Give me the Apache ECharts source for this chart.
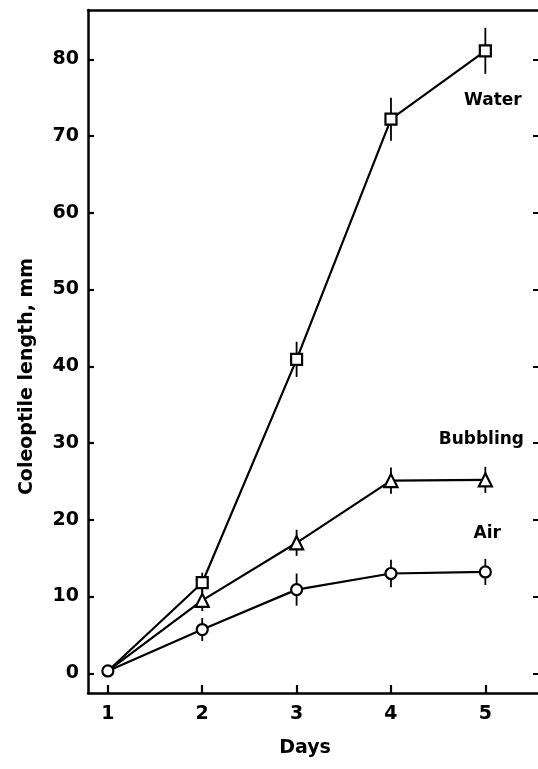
<!DOCTYPE html>
<html>
<head>
<meta charset="utf-8">
<script src="https://cdn.jsdelivr.net/npm/echarts@6/dist/echarts.min.js"></script>
<style>
html,body{margin:0;padding:0;background:#fff;}
#c{width:538px;height:769px;}
</style>
</head>
<body>
<div id="c"></div>
<script>
var days = [1, 2, 3, 4, 5];
var waterVals = [0.3, 11.8, 40.9, 72.2, 81.1];
var waterErr = [0, 1.3, 2.3, 2.8, 3.0];
var bubblingVals = [0.3, 9.5, 17.0, 25.1, 25.2];
var bubblingErr = [0, 1.4, 1.7, 1.7, 1.7];
var airVals = [0.3, 5.7, 10.9, 13.0, 13.2];
var airErr = [0, 1.5, 2.1, 1.8, 1.7];
var xTicks = [1, 2, 3, 4, 5];
var yTicks = [0, 10, 20, 30, 40, 50, 60, 70, 80];
var annotX = [5.08, 4.958, 5.02];
var annotY = [74.6, 30.4, 18.2];
var annotText = ['Water', 'Bubbling', 'Air'];

var FONT = 'DejaVu Sans';

function lineData(vals, hideFirst) {
  return days.map(function (d, i) {
    var item = { value: [d, vals[i]] };
    if (hideFirst && i === 0) { item.symbol = 'none'; }
    return item;
  });
}
function errData(vals, errs) {
  var out = [];
  days.forEach(function (d, i) {
    if (errs[i] > 0) out.push([d, vals[i] - errs[i], vals[i] + errs[i]]);
  });
  return out;
}
function errSeries(vals, errs) {
  return {
    type: 'custom',
    xAxisIndex: 0, yAxisIndex: 0,
    z: 1,
    silent: true,
    data: errData(vals, errs),
    renderItem: function (params, api) {
      var x = api.value(0);
      var lo = api.coord([x, api.value(1)]);
      var hi = api.coord([x, api.value(2)]);
      return {
        type: 'line',
        shape: { x1: lo[0], y1: lo[1], x2: hi[0], y2: hi[1] },
        style: { stroke: '#000', lineWidth: 1.8 }
      };
    }
  };
}
function mainSeries(name, vals, symbol, size, hideFirst) {
  return {
    name: name,
    type: 'line',
    xAxisIndex: 0, yAxisIndex: 0,
    z: 3,
    data: lineData(vals, hideFirst),
    symbol: symbol,
    symbolSize: size,
    showAllSymbol: true,
    lineStyle: { color: '#000', width: 2.2 },
    itemStyle: { color: '#fff', borderColor: '#000', borderWidth: 2.2 },
    emphasis: { disabled: true },
    animation: false
  };
}

var chart = echarts.init(document.getElementById('c'), null, { renderer: 'canvas' });
var option = {
  animation: false,
  backgroundColor: '#fff',
  grid: { left: 88, top: 10, right: -3, bottom: 76, containLabel: false },
  xAxis: [
    {
      type: 'value', position: 'bottom',
      min: 0.7895, max: 5.558,
      name: 'Days', nameLocation: 'middle', nameGap: 46,
      nameTextStyle: { fontFamily: FONT, fontSize: 19, fontWeight: 'bold', color: '#000', padding: [0, 16, 0, 0] },
      axisLine: { show: true, onZero: false, lineStyle: { color: '#000', width: 2.5 } },
      axisTick: { show: true, inside: true, length: 8, customValues: xTicks, lineStyle: { color: '#000', width: 2.2 } },
      axisLabel: { show: true, customValues: xTicks, margin: 12, fontFamily: FONT, fontSize: 19, fontWeight: 'bold', color: '#000' },
      splitLine: { show: false }
    },
    {
      type: 'value', position: 'top',
      min: 0.7895, max: 5.558,
      axisLine: { show: true, onZero: false, lineStyle: { color: '#000', width: 2.5 } },
      axisTick: { show: false }, axisLabel: { show: false }, splitLine: { show: false }
    }
  ],
  yAxis: [
    {
      type: 'value', position: 'left',
      min: -2.57, max: 86.42,
      name: 'Coleoptile length, mm', nameLocation: 'middle', nameGap: 51, nameRotate: 90,
      nameTextStyle: { fontFamily: FONT, fontSize: 19, fontWeight: 'bold', color: '#000', padding: [0, 50, 0, 0] },
      axisLine: { show: true, onZero: false, lineStyle: { color: '#000', width: 2.5 } },
      axisTick: { show: true, inside: true, length: 6, customValues: yTicks, lineStyle: { color: '#000', width: 2.2 } },
      axisLabel: { show: true, customValues: yTicks, margin: 9, fontFamily: FONT, fontSize: 19, fontWeight: 'bold', color: '#000' },
      splitLine: { show: false }
    },
    {
      type: 'value', position: 'right',
      min: -2.57, max: 86.42,
      axisLine: { show: false, onZero: false },
      axisTick: { show: true, inside: true, length: 5, customValues: yTicks, lineStyle: { color: '#000', width: 2 } },
      axisLabel: { show: false }, splitLine: { show: false }
    }
  ],
  series: [
    errSeries(waterVals, waterErr),
    errSeries(bubblingVals, bubblingErr),
    errSeries(airVals, airErr),
    mainSeries('Water', waterVals, 'rect', 11, true),
    mainSeries('Bubbling', bubblingVals, 'triangle', 13, true),
    mainSeries('Air', airVals, 'circle', 11, false),
    {
      type: 'scatter',
      xAxisIndex: 0, yAxisIndex: 0,
      symbolSize: 0,
      silent: true,
      itemStyle: { opacity: 1 },
      data: annotX.map(function (x, i) { return { value: [x, annotY[i]], name: annotText[i] }; }),
      label: {
        show: true, position: 'inside', formatter: '{b}',
        fontFamily: FONT, fontSize: 17, fontWeight: 'bold', color: '#000', textBorderWidth: 0
      }
    }
  ]
};
chart.setOption(option);
</script>
</body>
</html>
